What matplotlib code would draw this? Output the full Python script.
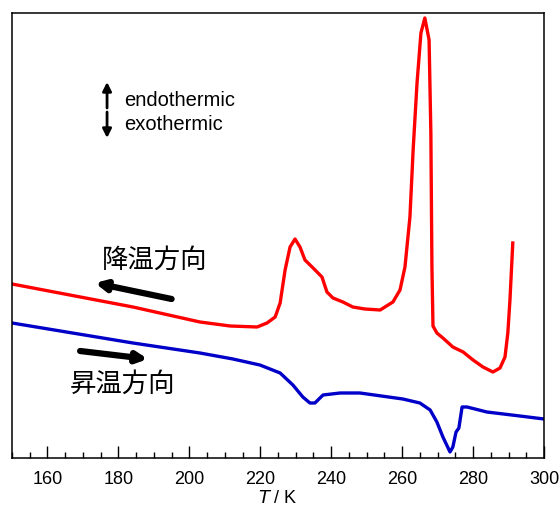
import numpy as np
import matplotlib
matplotlib.use("Agg")
import matplotlib.pyplot as plt

plt.rcParams['font.family'] = ['Liberation Sans', 'Noto Sans CJK JP', 'DejaVu Sans']

# cooling run (red), T in K, heat flow in arbitrary units
T_cool = [150.0, 184.1, 203.0, 211.5, 219.1, 221.9, 224.2, 225.6, 227.0, 228.4,
          229.8, 231.2, 232.6, 234.9, 237.4, 238.8, 240.5, 243.3, 246.1, 249.5,
          253.8, 257.4, 259.4, 260.8, 262.2, 263.1, 264.2, 265.3, 266.4, 267.6,
          268.1, 268.4, 268.7, 269.8, 271.5, 274.3, 277.2, 280.0, 282.8, 285.6,
          287.6, 289.0, 289.8, 290.4, 291.2]
hf_cool = [174, 151, 136, 132, 131, 135, 141, 155, 188, 211,
           219, 211, 198, 190, 181, 166, 160, 156, 151, 149,
           148, 156, 168, 191, 241, 308, 375, 425, 440, 418,
           325, 191, 132, 125, 120, 111, 106, 98, 91, 86,
           90, 101, 125, 158, 215]

# heating run (blue)
T_heat = [150.0, 184.1, 203.0, 212.3, 219.9, 225.6, 229.2, 232.0, 234.0, 235.4,
          237.7, 242.5, 248.1, 260.2, 265.0, 267.9, 269.8, 271.5, 273.5, 274.3,
          275.2, 276.0, 276.9, 278.3, 283.9, 293.2, 300.0]
hf_heat = [135, 115, 105, 99, 93, 85, 73, 61, 55, 55,
           63, 65, 65, 59, 55, 48, 36, 21, 6, 11,
           26, 30, 51, 51, 46, 42, 39]

xticks = [160, 180, 200, 220, 240, 260, 280, 300]

fig = plt.figure(figsize=(5.6, 5.08), dpi=100)
ax = fig.add_axes([12/560, 50/508, 532/560, 445/508])

ax.plot(T_cool, hf_cool, color='#ff0000', lw=2.4, solid_joinstyle='round')
ax.plot(T_heat, hf_heat, color='#0000c8', lw=2.4, solid_joinstyle='round')

ax.set_xlim(150, 300)
ax.set_ylim(0, 445)
ax.set_xticks(xticks)
ax.set_xticks(np.arange(150, 301, 5), minor=True)
ax.set_yticks([])
ax.tick_params(axis='x', which='major', direction='in', length=8.5, width=1,
               labelsize=13, pad=9.5)
ax.tick_params(axis='x', which='minor', direction='in', length=4.3, width=1)
for s in ax.spines.values():
    s.set_linewidth(1.1)

ax.set_xlabel(r'$\it{T}$ / K', fontsize=13, labelpad=1)

# endo / exo legend
ax.annotate('', xy=(176.8, 458 - 82), xytext=(176.8, 458 - 108),
            arrowprops=dict(arrowstyle='-|>', color='black', lw=2,
                            mutation_scale=13, shrinkA=0, shrinkB=0))
ax.annotate('', xy=(176.8, 458 - 138), xytext=(176.8, 458 - 112),
            arrowprops=dict(arrowstyle='-|>', color='black', lw=2,
                            mutation_scale=13, shrinkA=0, shrinkB=0))
ax.text(181.7, 458 - 101, 'endothermic', fontsize=14.5, va='center', ha='left')
ax.text(181.7, 458 - 125, 'exothermic', fontsize=14.5, va='center', ha='left')

# direction labels
ax.text(190.3, 458 - 260, '降温方向', fontsize=19, va='center', ha='center',
        family=['Noto Sans CJK JP', 'DejaVu Sans'])
ax.text(181.2, 458 - 384, '昇温方向', fontsize=19, va='center', ha='center',
        family=['Noto Sans CJK JP', 'DejaVu Sans'])

ax.annotate('', xy=(173.4, 458 - 283), xytext=(195.0, 458 - 299),
            arrowprops=dict(arrowstyle='-|>', color='black', lw=4.5,
                            mutation_scale=15, shrinkA=0, shrinkB=0))
ax.annotate('', xy=(188.3, 458 - 359), xytext=(169.2, 458 - 351),
            arrowprops=dict(arrowstyle='-|>', color='black', lw=4.5,
                            mutation_scale=15, shrinkA=0, shrinkB=0))

fig.savefig('out.png', dpi=100)
